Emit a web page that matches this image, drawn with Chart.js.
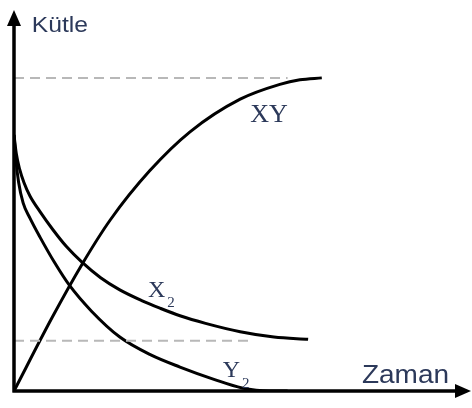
<!DOCTYPE html>
<html>
<head>
<meta charset="utf-8">
<script src="https://cdn.jsdelivr.net/npm/chart.js@4/dist/chart.umd.min.js"></script>
<style>
  html, body { margin: 0; padding: 0; background: #fff; }
  #wrap { width: 472px; height: 408px; position: relative; }
</style>
</head>
<body>
<div id="wrap"><canvas id="c" width="472" height="408"></canvas></div>
<script>
// Mass (Kütle) versus time (Zaman) for X2 + Y2 -> XY, arbitrary units
const xyTime  = [0, 0.83, 1.49, 2.11, 2.98, 3.86, 4.96, 5.83, 6.27, 6.75];
const xyMass  = [0, 1.92, 3.33, 4.5, 5.8, 6.82, 7.68, 8.07, 8.19, 8.24];

const x2Time  = [0, 0.05, 0.12, 0.22, 0.35, 0.57, 0.85, 1.15, 1.49, 1.9, 2.32, 2.8, 3.2, 3.64, 4.2, 4.96, 5.7, 6.45];
const x2Mass  = [6.74, 6.25, 5.85, 5.48, 5.13, 4.72, 4.25, 3.8, 3.39, 2.98, 2.66, 2.38, 2.18, 1.98, 1.78, 1.56, 1.42, 1.36];

const y2Time  = [0, 0.04, 0.1, 0.2, 0.35, 0.57, 0.9, 1.21, 1.7, 2.32, 3.0, 3.64, 4.4, 5.0, 5.6, 6.0];
const y2Mass  = [6.74, 6.1, 5.5, 4.95, 4.55, 4.05, 3.36, 2.79, 2.1, 1.42, 0.95, 0.63, 0.3, 0.08, 0, 0];

// reference levels (final XY mass, leftover X2 mass)
const levelXY = 8.24;
const levelX2 = 1.32;
const levelXYEnd = 6.0;
const levelX2End = 5.2;

const axisLabels = { y: 'Kütle', x: 'Zaman' };
const seriesNames = ['XY', 'X', 'Y'];

const toPts = (t, m) => t.map((v, i) => ({ x: v, y: m[i] }));

const curveStyle = {
  borderColor: '#000', borderWidth: 3, pointRadius: 0,
  cubicInterpolationMode: 'monotone', fill: false
};
const dashStyle = {
  borderColor: '#b8b8b8', borderWidth: 2, pointRadius: 0,
  borderDash: [10, 6], fill: false
};

const textColor = '#2c395a';

const decor = {
  id: 'decor',
  afterDatasetsDraw(chart) {
    const { ctx, scales: { x, y } } = chart;
    const x0 = x.getPixelForValue(0), y0 = y.getPixelForValue(0);
    const yTop = y.getPixelForValue(10.0), xEnd = x.getPixelForValue(10.0);
    ctx.save();
    // axes
    ctx.strokeStyle = '#000';
    ctx.fillStyle = '#000';
    ctx.lineWidth = 3.5;
    ctx.lineCap = 'butt';
    ctx.beginPath();
    ctx.moveTo(x0, y0 + 1.5);
    ctx.lineTo(x0, yTop + 12);
    ctx.moveTo(x0 - 1.5, y0);
    ctx.lineTo(xEnd - 12, y0);
    ctx.stroke();
    // arrow heads
    ctx.beginPath();
    ctx.moveTo(x0, yTop - 1);
    ctx.lineTo(x0 - 7, yTop + 15);
    ctx.lineTo(x0 + 7, yTop + 15);
    ctx.closePath();
    ctx.fill();
    ctx.beginPath();
    ctx.moveTo(xEnd + 1, y0);
    ctx.lineTo(xEnd - 15, y0 - 7);
    ctx.lineTo(xEnd - 15, y0 + 7);
    ctx.closePath();
    ctx.fill();

    // axis titles
    ctx.fillStyle = textColor;
    ctx.textBaseline = 'alphabetic';
    ctx.textAlign = 'left';
    const stretched = (txt, px, py, font, sx) => {
      ctx.save();
      ctx.translate(px, py);
      ctx.scale(sx, 1);
      ctx.font = font;
      ctx.fillText(txt, 0, 0);
      ctx.restore();
    };
    stretched(axisLabels.y, x.getPixelForValue(0.39), y.getPixelForValue(9.45), '22px "Liberation Sans", Arial, sans-serif', 1.12);
    stretched(axisLabels.x, x.getPixelForValue(7.63), y.getPixelForValue(0.21), '25px "Liberation Sans", Arial, sans-serif', 1.12);

    // curve names
    const serif = '"Liberation Serif", "Times New Roman", serif';
    ctx.font = '26px ' + serif;
    ctx.fillText(seriesNames[0], x.getPixelForValue(5.18), y.getPixelForValue(7.08));
    ctx.font = '24px ' + serif;
    ctx.fillText(seriesNames[1], x.getPixelForValue(2.94), y.getPixelForValue(2.47));
    ctx.fillText(seriesNames[2], x.getPixelForValue(4.58), y.getPixelForValue(0.37));
    ctx.font = '15px ' + serif;
    ctx.fillText('2', x.getPixelForValue(3.36), y.getPixelForValue(2.21));
    ctx.fillText('2', x.getPixelForValue(5.0), y.getPixelForValue(0.08));
    ctx.restore();
  }
};

new Chart(document.getElementById('c'), {
  type: 'line',
  data: {
    datasets: [
      { ...dashStyle, data: [{ x: 0, y: levelXY }, { x: levelXYEnd, y: levelXY }] },
      { ...dashStyle, data: [{ x: 0, y: levelX2 }, { x: levelX2End, y: levelX2 }] },
      { ...curveStyle, label: 'XY', data: toPts(xyTime, xyMass) },
      { ...curveStyle, label: 'X2', data: toPts(x2Time, x2Mass) },
      { ...curveStyle, label: 'Y2', data: toPts(y2Time, y2Mass) }
    ]
  },
  options: {
    responsive: false,
    animation: false,
    layout: { padding: { left: 14, right: 2, top: 11, bottom: 17 } },
    scales: {
      x: { type: 'linear', min: 0, max: 10, display: false },
      y: { type: 'linear', min: 0, max: 10, display: false }
    },
    plugins: { legend: { display: false }, tooltip: { enabled: false } },
    elements: { line: { tension: 0 } }
  },
  plugins: [decor]
});
</script>
</body>
</html>
